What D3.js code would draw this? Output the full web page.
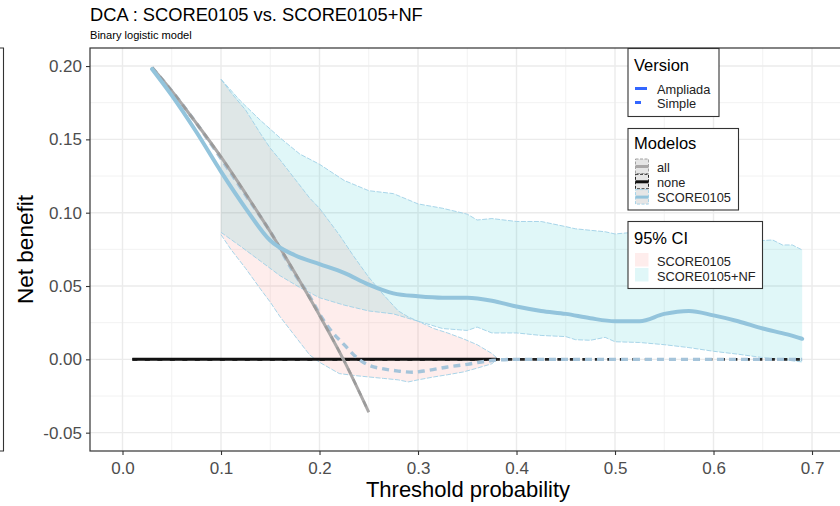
<!DOCTYPE html>
<html>
<head>
<meta charset="utf-8">
<script src="https://cdn.jsdelivr.net/npm/d3@7"></script>
<style>
  html, body { margin: 0; padding: 0; background: #ffffff; }
  svg { display: block; font-family: "Liberation Sans", Arial, sans-serif; }
</style>
</head>
<body>
<svg id="chart" width="840" height="506"></svg>
<script>
// ---- Data: decision curve net benefit by threshold probability ----
const titleText = "DCA : SCORE0105 vs. SCORE0105+NF";
const subtitleText = "Binary logistic model";
const xTickValues = [0.0, 0.1, 0.2, 0.3, 0.4, 0.5, 0.6, 0.7];
const xMinorValues = [0.05, 0.15, 0.25, 0.35, 0.45, 0.55, 0.65];
const yTickValues = [-0.05, 0.00, 0.05, 0.10, 0.15, 0.20];
const yMinorValues = [-0.025, 0.025, 0.075, 0.125, 0.175];

// "all" (treat everyone) curve
const allThresholds = [0.03, 0.05, 0.075, 0.10, 0.125, 0.15, 0.175, 0.20, 0.225, 0.25];
const allNetBenefit = [0.199, 0.183, 0.161, 0.138, 0.113, 0.087, 0.059, 0.030, -0.001, -0.036];

// "none" (treat no one) curve
const noneSolidThresholds = [0.01, 0.38];
const noneSolidNetBenefit = [0, 0];
const noneDashedThresholds = [0.01, 0.69];
const noneDashedNetBenefit = [0, 0];

// SCORE0105+NF model (Ampliada)
const ampliadaThresholds = [0.03, 0.05, 0.075, 0.10, 0.125, 0.15, 0.175, 0.20, 0.225, 0.25, 0.275, 0.30, 0.325, 0.35, 0.375, 0.40, 0.425, 0.45, 0.475, 0.50, 0.525, 0.55, 0.575, 0.60, 0.625, 0.65, 0.675, 0.69];
const ampliadaNetBenefit = [0.198, 0.180, 0.155, 0.128, 0.103, 0.081, 0.071, 0.065, 0.059, 0.051, 0.045, 0.043, 0.042, 0.042, 0.040, 0.036, 0.033, 0.031, 0.028, 0.026, 0.026, 0.031, 0.033, 0.030, 0.026, 0.021, 0.017, 0.014];

// SCORE0105 model (Simple)
const simpleThresholds = [0.03, 0.05, 0.075, 0.10, 0.125, 0.15, 0.175, 0.19, 0.20, 0.21, 0.225, 0.24, 0.25, 0.265, 0.28, 0.295, 0.31, 0.33, 0.35, 0.375, 0.40, 0.45, 0.50, 0.55, 0.60, 0.65, 0.69];
const simpleNetBenefit = [0.199, 0.183, 0.161, 0.137, 0.112, 0.087, 0.058, 0.043, 0.031, 0.021, 0.010, 0.000, -0.004, -0.0065, -0.008, -0.0088, -0.0075, -0.0052, -0.0034, -0.0008, 0, 0, 0, 0, 0, 0, 0];

// 95% CI, SCORE0105+NF
const ampliadaCiThresholds = [0.10, 0.12, 0.14, 0.16, 0.18, 0.20, 0.225, 0.25, 0.275, 0.30, 0.325, 0.35, 0.36, 0.375, 0.40, 0.425, 0.45, 0.46, 0.475, 0.49, 0.50, 0.525, 0.55, 0.575, 0.60, 0.625, 0.65, 0.66, 0.67, 0.68, 0.69];
const ampliadaCiUpper = [0.191, 0.176, 0.163, 0.151, 0.140, 0.133, 0.122, 0.115, 0.113, 0.106, 0.103, 0.099, 0.095, 0.096, 0.094, 0.094, 0.0905, 0.089, 0.088, 0.087, 0.0855, 0.087, 0.085, 0.084, 0.083, 0.082, 0.081, 0.0814, 0.078, 0.078, 0.0746];
const ampliadaCiLower = [0.0866, 0.077, 0.067, 0.057, 0.049, 0.042, 0.037, 0.033, 0.031, 0.026, 0.021, 0.0197, 0.022, 0.018, 0.018, 0.0163, 0.0155, 0.0134, 0.013, 0.015, 0.012, 0.0115, 0.010, 0.008, 0.0055, 0.0035, 0.0012, 0.0005, 0.0, -0.001, -0.0018];

// 95% CI, SCORE0105
const simpleCiThresholds = [0.10, 0.11, 0.125, 0.14, 0.15, 0.16, 0.175, 0.19, 0.20, 0.22, 0.235, 0.25, 0.265, 0.28, 0.29, 0.30, 0.316, 0.33, 0.346, 0.36, 0.375, 0.38];
const simpleCiUpper = [0.191, 0.182, 0.170, 0.154, 0.144, 0.136, 0.123, 0.110, 0.103, 0.085, 0.070, 0.056, 0.044, 0.033, 0.029, 0.026, 0.021, 0.018, 0.014, 0.010, 0.004, 0.001];
const simpleCiLower = [0.085, 0.075, 0.062, 0.048, 0.039, 0.029, 0.016, 0.003, -0.002, -0.0097, -0.011, -0.012, -0.013, -0.014, -0.0154, -0.014, -0.012, -0.0105, -0.0086, -0.006, -0.003, 0.0];

// Legend content
const versionLabels = ["Ampliada", "Simple"];
const modelLabels = ["all", "none", "SCORE0105"];
const ciLabels = ["SCORE0105", "SCORE0105+NF"];

// ---- Layout ----
const svg = d3.select("#chart");
const panel = { left: 90, right: 846, top: 48, bottom: 451 };

const x = d3.scaleLinear().domain([-0.033, 0.7345]).range([panel.left, panel.right]);
const y = d3.scaleLinear().domain([-0.0625, 0.2123]).range([panel.bottom, panel.top]);

const zip = (xs, ys) => xs.map((t, i) => ({ t, v: ys[i] }));
const zip3 = (xs, lo, hi) => xs.map((t, i) => ({ t, lo: lo[i], hi: hi[i] }));
const hyphenMinus = f => d => f(d).replace("\u2212", "-");

// Edge of the neighbouring panel on the left
svg.append("path")
  .attr("d", `M-2,${panel.top}H3.5V${panel.bottom}H-2`)
  .attr("fill", "none").attr("stroke", "#333").attr("stroke-width", 1.1);

// Panel background and grid
svg.append("rect")
  .attr("x", panel.left).attr("y", panel.top)
  .attr("width", panel.right - panel.left).attr("height", panel.bottom - panel.top)
  .attr("fill", "#ffffff");

const grid = svg.append("g");
grid.selectAll(".xminor").data(xMinorValues).join("line")
  .attr("x1", d => x(d)).attr("x2", d => x(d))
  .attr("y1", panel.top).attr("y2", panel.bottom)
  .attr("stroke", "#f2f2f2").attr("stroke-width", 1);
grid.selectAll(".yminor").data(yMinorValues).join("line")
  .attr("y1", d => y(d)).attr("y2", d => y(d))
  .attr("x1", panel.left).attr("x2", panel.right)
  .attr("stroke", "#f2f2f2").attr("stroke-width", 1);
grid.selectAll(".xmajor").data(xTickValues).join("line")
  .attr("x1", d => x(d)).attr("x2", d => x(d))
  .attr("y1", panel.top).attr("y2", panel.bottom)
  .attr("stroke", "#ebebeb").attr("stroke-width", 1.4);
grid.selectAll(".ymajor").data(yTickValues).join("line")
  .attr("y1", d => y(d)).attr("y2", d => y(d))
  .attr("x1", panel.left).attr("x2", panel.right)
  .attr("stroke", "#ebebeb").attr("stroke-width", 1.4);

svg.append("clipPath").attr("id", "panelClip")
  .append("rect")
  .attr("x", panel.left).attr("y", panel.top)
  .attr("width", panel.right - panel.left).attr("height", panel.bottom - panel.top);

const plot = svg.append("g").attr("clip-path", "url(#panelClip)");

// Confidence bands
const area = d3.area().x(d => x(d.t)).y0(d => y(d.lo)).y1(d => y(d.hi)).curve(d3.curveLinear);
const bandEdge = (acc) => d3.line().x(d => x(d.t)).y(d => y(acc(d))).curve(d3.curveLinear);

const bands = [
  { data: zip3(simpleCiThresholds, simpleCiLower, simpleCiUpper), fill: "#F8766D", op: 0.13 },
  { data: zip3(ampliadaCiThresholds, ampliadaCiLower, ampliadaCiUpper), fill: "#00BFC4", op: 0.12 }
];
bands.forEach(b => {
  plot.append("path").datum(b.data).attr("d", area)
    .attr("fill", b.fill).attr("fill-opacity", b.op).attr("stroke", "none");
});
bands.forEach(b => {
  [d => d.lo, d => d.hi].forEach(acc => {
    plot.append("path").datum(b.data).attr("d", bandEdge(acc))
      .attr("fill", "none").attr("stroke", "#9fd0e6").attr("stroke-width", 0.9)
      .attr("stroke-dasharray", "5,1.5");
  });
});

const line = d3.line().x(d => x(d.t)).y(d => y(d.v)).curve(d3.curveMonotoneX);

// none
plot.append("path").datum(zip(noneDashedThresholds, noneDashedNetBenefit)).attr("d", line)
  .attr("fill", "none").attr("stroke", "#222").attr("stroke-width", 2.6)
  .attr("stroke-dasharray", "5,7.5");
plot.append("path").datum(zip(noneSolidThresholds, noneSolidNetBenefit)).attr("d", line)
  .attr("fill", "none").attr("stroke", "#111").attr("stroke-width", 3);

// SCORE0105 (Simple)
plot.append("path").datum(zip(simpleThresholds, simpleNetBenefit)).attr("d", line)
  .attr("fill", "none").attr("stroke", "#a5c4da").attr("stroke-width", 3.4)
  .attr("stroke-dasharray", "7,5");

// all
plot.append("path").datum(zip(allThresholds, allNetBenefit)).attr("d", line)
  .attr("fill", "none").attr("stroke", "#aaa8a8").attr("stroke-width", 3);
plot.append("path").datum(zip(allThresholds, allNetBenefit)).attr("d", line)
  .attr("fill", "none").attr("stroke", "#9a9a9a").attr("stroke-width", 2.4)
  .attr("stroke-dasharray", "6,6");

// SCORE0105+NF (Ampliada)
plot.append("path").datum(zip(ampliadaThresholds, ampliadaNetBenefit)).attr("d", line)
  .attr("fill", "none").attr("stroke", "#93c4dc").attr("stroke-width", 4)
  .attr("stroke-linecap", "round");

// Panel border
svg.append("rect")
  .attr("x", panel.left).attr("y", panel.top)
  .attr("width", panel.right - panel.left).attr("height", panel.bottom - panel.top)
  .attr("fill", "none").attr("stroke", "#333").attr("stroke-width", 1.2);

// Axes
const yAxis = svg.append("g").attr("transform", `translate(${panel.left},0)`)
  .call(d3.axisLeft(y).tickValues(yTickValues).tickFormat(hyphenMinus(d3.format(".2f"))).tickSize(4).tickPadding(4));
const xAxis = svg.append("g").attr("transform", `translate(0,${panel.bottom})`)
  .call(d3.axisBottom(x).tickValues(xTickValues).tickFormat(d3.format(".1f")).tickSize(4).tickPadding(4));
[xAxis, yAxis].forEach(a => {
  a.select(".domain").remove();
  a.selectAll(".tick line").attr("stroke", "#333").attr("stroke-width", 1.1);
  a.selectAll(".tick text").attr("fill", "#4d4d4d").attr("font-size", 17)
    .attr("font-family", "'Liberation Sans', Arial, sans-serif");
});
xAxis.selectAll(".tick text").attr("dy", "0.9em");

// Titles
svg.append("text").attr("x", 90).attr("y", 21).attr("font-size", 18.3).attr("fill", "#000")
  .text(titleText);
svg.append("text").attr("x", 90).attr("y", 38.5).attr("font-size", 11.1).attr("fill", "#000")
  .text(subtitleText);
svg.append("text").attr("x", (panel.left + panel.right) / 2).attr("y", 497)
  .attr("text-anchor", "middle").attr("font-size", 22).attr("fill", "#000")
  .text("Threshold probability");
svg.append("text").attr("transform", `translate(33,${(panel.top + panel.bottom) / 2}) rotate(-90)`)
  .attr("text-anchor", "middle").attr("font-size", 22.5).attr("fill", "#000")
  .text("Net benefit");

// ---- Legends ----
const legendFont = 12.8;
function legendBox(x0, y0, w, h, title, titleY) {
  const g = svg.append("g");
  g.append("rect").attr("x", x0).attr("y", y0).attr("width", w).attr("height", h)
    .attr("fill", "#fff").attr("stroke", "#333").attr("stroke-width", 1.1);
  g.append("text").attr("x", x0 + 6).attr("y", titleY).attr("font-size", 16.5).attr("fill", "#000")
    .text(title);
  return g;
}

// Version (linetype)
const gv = legendBox(628, 48.5, 91, 68, "Version", 71);
versionLabels.forEach((lab, i) => {
  const cy = 88.5 + i * 14;
  gv.append("line").attr("x1", 635).attr("x2", i === 0 ? 647 : 641)
    .attr("y1", cy).attr("y2", cy).attr("stroke", "#3366ff").attr("stroke-width", 3);
  gv.append("text").attr("x", 657).attr("y", cy + 5).attr("font-size", legendFont).attr("fill", "#222")
    .text(lab);
});

// Modelos (colour)
const gm = legendBox(628, 128.5, 110.5, 81.5, "Modelos", 149);
const modelKeyStyles = [
  { stroke: "#aaa8a8", border: "#999" },
  { stroke: "#111", border: "#111" },
  { stroke: "#93c4dc", border: "#9fd0e6" }
];
modelLabels.forEach((lab, i) => {
  const ky = 159 + i * 15.3;
  const s = modelKeyStyles[i];
  gm.append("rect").attr("x", 635.5).attr("y", ky).attr("width", 13).attr("height", 14.5)
    .attr("fill", "#e6e6e6").attr("stroke", s.border).attr("stroke-width", 0.9)
    .attr("stroke-dasharray", "3,1.5");
  gm.append("line").attr("x1", 635.5).attr("x2", 648.5).attr("y1", ky + 7.5).attr("y2", ky + 7.5)
    .attr("stroke", s.stroke).attr("stroke-width", 3);
  gm.append("text").attr("x", 657).attr("y", ky + 12.5).attr("font-size", legendFont).attr("fill", "#222")
    .text(lab);
});

// 95% CI (fill)
const gc = legendBox(628, 221.5, 134.5, 67, "95% CI", 243.5);
const ciFills = [{ fill: "#F8766D", op: 0.13 }, { fill: "#00BFC4", op: 0.12 }];
ciLabels.forEach((lab, i) => {
  const ky = 253 + i * 15;
  gc.append("rect").attr("x", 635).attr("y", ky).attr("width", 13.5).attr("height", 13.5)
    .attr("fill", ciFills[i].fill).attr("fill-opacity", ciFills[i].op);
  gc.append("text").attr("x", 657).attr("y", ky + 12.5).attr("font-size", legendFont).attr("fill", "#222")
    .text(lab);
});
</script>
</body>
</html>
